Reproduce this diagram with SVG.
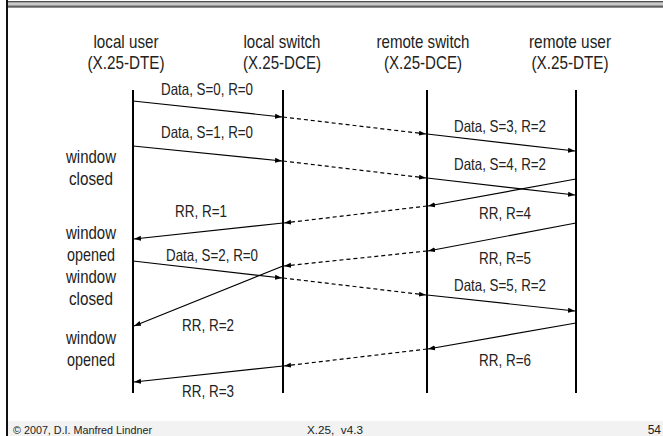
<svg xmlns="http://www.w3.org/2000/svg" width="663" height="436" viewBox="0 0 663 436">
<defs>
<linearGradient id="band" x1="0" y1="0" x2="0" y2="1">
<stop offset="0" stop-color="#222"/>
<stop offset="0.2" stop-color="#999"/>
<stop offset="0.45" stop-color="#e0e0e0"/>
<stop offset="0.7" stop-color="#999"/>
<stop offset="1" stop-color="#222"/>
</linearGradient>
<marker id="ah" markerUnits="userSpaceOnUse" markerWidth="8" markerHeight="6" refX="7" refY="3" orient="auto">
<path d="M0,0.5 L7,3 L0,5.5 Z" fill="#000"/>
</marker>
</defs>
<style>
.t{font-family:'Liberation Sans Narrow','Liberation Sans',Arial,sans-serif;fill:#222;text-anchor:middle}
.h{font-size:19px}
.l{font-size:16.5px}
.life{stroke:#000;stroke-width:2}
.m{stroke:#000;stroke-width:1.2;fill:none;marker-end:url(#ah)}
.d{stroke-dasharray:4,3}
.f{font-family:'Liberation Sans',Arial,sans-serif;fill:#222}
</style>
<rect x="0" y="0" width="663" height="436" fill="#fff"/>
<rect x="6" y="1" width="657" height="6.5" fill="url(#band)"/>
<line x1="7" y1="0" x2="7" y2="436" stroke="#111" stroke-width="2"/>
<rect x="8" y="421" width="655" height="15" fill="#f2f2f2"/>

<g id="local-user">
<text class="t h" x="126" y="48" textLength="65" lengthAdjust="spacingAndGlyphs">local user</text>
<text class="t h" x="126" y="69" textLength="77" lengthAdjust="spacingAndGlyphs">(X.25-DTE)</text>
<line class="life" x1="133" y1="90" x2="133" y2="393"/>
</g>
<g id="local-switch">
<text class="t h" x="282" y="48" textLength="77" lengthAdjust="spacingAndGlyphs">local switch</text>
<text class="t h" x="282" y="69" textLength="78" lengthAdjust="spacingAndGlyphs">(X.25-DCE)</text>
<line class="life" x1="283" y1="90" x2="283" y2="393"/>
</g>
<g id="remote-switch">
<text class="t h" x="423" y="48" textLength="93" lengthAdjust="spacingAndGlyphs">remote switch</text>
<text class="t h" x="423" y="69" textLength="78" lengthAdjust="spacingAndGlyphs">(X.25-DCE)</text>
<line class="life" x1="427" y1="90" x2="427" y2="393"/>
</g>
<g id="remote-user">
<text class="t h" x="570" y="48" textLength="82" lengthAdjust="spacingAndGlyphs">remote user</text>
<text class="t h" x="570" y="69" textLength="77" lengthAdjust="spacingAndGlyphs">(X.25-DTE)</text>
<line class="life" x1="576" y1="90" x2="576" y2="393"/>
</g>

<g id="notes">
<text class="t h" x="91" y="163" textLength="50" lengthAdjust="spacingAndGlyphs">window</text>
<text class="t h" x="91" y="185" textLength="44" lengthAdjust="spacingAndGlyphs">closed</text>
<text class="t h" x="91" y="239" textLength="50" lengthAdjust="spacingAndGlyphs">window</text>
<text class="t h" x="91" y="261" textLength="48" lengthAdjust="spacingAndGlyphs">opened</text>
<text class="t h" x="91" y="283" textLength="50" lengthAdjust="spacingAndGlyphs">window</text>
<text class="t h" x="91" y="305" textLength="44" lengthAdjust="spacingAndGlyphs">closed</text>
<text class="t h" x="91" y="344" textLength="50" lengthAdjust="spacingAndGlyphs">window</text>
<text class="t h" x="91" y="366" textLength="48" lengthAdjust="spacingAndGlyphs">opened</text>
</g>

<g id="connectors">
<line class="m" x1="133" y1="101" x2="282" y2="117"/>
<line class="m d" x1="283" y1="117" x2="426" y2="134"/>
<line class="m" x1="427" y1="134" x2="575" y2="151"/>
<line class="m" x1="133" y1="146" x2="282" y2="161"/>
<line class="m d" x1="283" y1="161" x2="426" y2="178"/>
<line class="m" x1="427" y1="178" x2="575" y2="195"/>
<line class="m" x1="576" y1="179" x2="428" y2="206"/>
<line class="m d" x1="427" y1="206" x2="284" y2="223"/>
<line class="m" x1="283" y1="223" x2="134" y2="239"/>
<line class="m" x1="576" y1="223" x2="428" y2="251"/>
<line class="m d" x1="427" y1="251" x2="284" y2="266"/>
<line class="m" x1="283" y1="266" x2="134" y2="326"/>
<line class="m" x1="133" y1="261" x2="282" y2="278"/>
<line class="m d" x1="283" y1="278" x2="426" y2="295"/>
<line class="m" x1="427" y1="295" x2="575" y2="311"/>
<line class="m" x1="576" y1="323" x2="428" y2="349"/>
<line class="m d" x1="427" y1="349" x2="284" y2="366"/>
<line class="m" x1="283" y1="366" x2="134" y2="382"/>
</g>

<g id="labels">
<text class="t l" x="207" y="95" textLength="92" lengthAdjust="spacingAndGlyphs">Data, S=0, R=0</text>
<text class="t l" x="207" y="138" textLength="92" lengthAdjust="spacingAndGlyphs">Data, S=1, R=0</text>
<text class="t l" x="500" y="132" textLength="92" lengthAdjust="spacingAndGlyphs">Data, S=3, R=2</text>
<text class="t l" x="500" y="170" textLength="92" lengthAdjust="spacingAndGlyphs">Data, S=4, R=2</text>
<text class="t l" x="201" y="217" textLength="52" lengthAdjust="spacingAndGlyphs">RR, R=1</text>
<text class="t l" x="505" y="219" textLength="52" lengthAdjust="spacingAndGlyphs">RR, R=4</text>
<text class="t l" x="212" y="261" textLength="92" lengthAdjust="spacingAndGlyphs">Data, S=2, R=0</text>
<text class="t l" x="505" y="264" textLength="52" lengthAdjust="spacingAndGlyphs">RR, R=5</text>
<text class="t l" x="500" y="291" textLength="92" lengthAdjust="spacingAndGlyphs">Data, S=5, R=2</text>
<text class="t l" x="208" y="331" textLength="52" lengthAdjust="spacingAndGlyphs">RR, R=2</text>
<text class="t l" x="505" y="366" textLength="52" lengthAdjust="spacingAndGlyphs">RR, R=6</text>
<text class="t l" x="208" y="397" textLength="52" lengthAdjust="spacingAndGlyphs">RR, R=3</text>
</g>

<g id="footer">
<text class="f" x="13" y="434" font-size="10.5" textLength="139" lengthAdjust="spacingAndGlyphs">© 2007, D.I. Manfred Lindner</text>
<text class="f" x="307" y="434" font-size="10.5" xml:space="preserve" textLength="56" lengthAdjust="spacingAndGlyphs">X.25,  v4.3</text>
<text class="f" x="661" y="434" font-size="12" text-anchor="end">54</text>
</g>
</svg>
